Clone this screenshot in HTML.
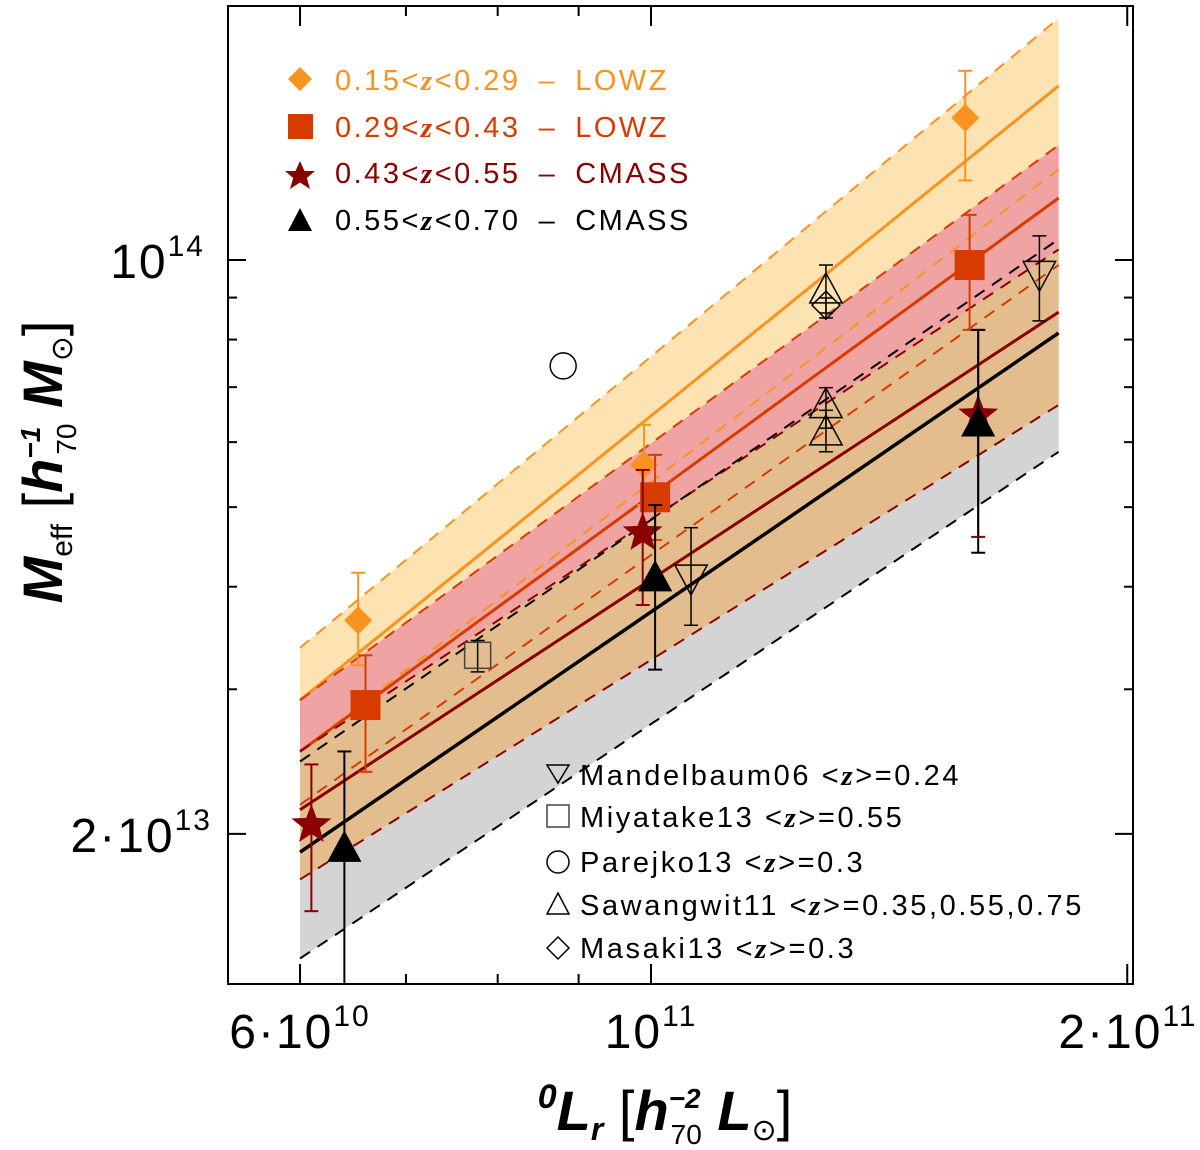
<!DOCTYPE html>
<html><head><meta charset="utf-8"><style>
body{margin:0;background:#fff;}
svg text{font-family:"Liberation Sans",sans-serif;}
</style></head><body>
<svg id="c" width="1200" height="1145" xmlns="http://www.w3.org/2000/svg"></svg>
<script>
// x: luminosity in 1e10 Lsun, y: mass in 1e13 Msun
const bandL = [6.0, 18.1];
const orangeMid = [2.91, 16.3], orangeUp = [3.37, 19.7], orangeLo = [2.52, 12.9];
const redMid = [2.52, 11.9], redUp = [2.91, 13.8], redLo = [2.17, 9.86];
const dredMid = [2.14, 8.64], dredUp = [2.52, 10.3], dredLo = [1.76, 6.66];
const blackMid = [1.90, 8.15], blackUp = [2.45, 10.6], blackLo = [1.41, 5.84];

const lowzAL = [6.53, 9.9, 15.8], lowzAM = [3.64, 5.63, 14.9], lowzAHi = [4.16, 6.3, 17.0], lowzALo = [3.21, 5.03, 12.5];
const lowzBL = [6.6, 10.06, 15.9], lowzBM = [2.87, 5.14, 9.86], lowzBHi = [3.30, 5.79, 11.35], lowzBLo = [2.38, 4.56, 8.22];
const cmassAL = [6.1, 9.88, 16.1], cmassAM = [2.05, 4.65, 6.47], cmassAHi = [2.43, 5.55, 8.22], cmassALo = [1.61, 3.80, 4.60];
const cmassBL = [6.4, 10.06, 16.1], cmassBM = [1.92, 4.10, 6.33], cmassBHi = [2.52, 5.03, 8.22], cmassBLo = [1.2, 3.17, 4.40];

const mandL = [10.6, 17.6], mandM = [4.10, 9.61], mandHi = [4.72, 10.7], mandLo = [3.59, 8.43];
const miyaL = [7.77], miyaM = [3.30], miyaHi = [3.44], miyaLo = [3.15];
const pareL = [8.8], pareM = [7.43];
const sawaL = [12.9, 12.9, 12.9], sawaM = [9.19, 6.66, 6.17], sawaHi = [9.86, 6.99, 6.56], sawaLo = [8.5, 6.24, 5.84];
const masaL = [12.9], masaM = [8.81], masaHi = [8.99], masaLo = [8.62];

const xTicksMajor = [6, 10, 20], xTicksMinor = [7, 8, 9];
const yTicksMajor = [10, 2], yTicksMinor = [3, 4, 5, 6, 7, 8, 9];

const NS = "http://www.w3.org/2000/svg";
const svg = document.getElementById('c');
const L = 228, R = 1133, T = 6, B = 984;
function X(v){ return 651 + 1582 * Math.log10(v / 10); }
function Y(v){ return 260 - 821 * Math.log10(v / 10); }
function mk(tag, attrs, parent){
  const e = document.createElementNS(NS, tag);
  for (const k in attrs) e.setAttribute(k, attrs[k]);
  (parent || svg).appendChild(e);
  return e;
}
const clip = mk('clipPath', {id: 'pc'});
mk('rect', {x: L, y: T, width: R - L, height: B - T}, clip);
const plot = mk('g', {'clip-path': 'url(#pc)'});



function band(up, lo, fill, name){
  const p = mk('polygon', {points: `${X(bandL[0])},${Y(up[0])} ${X(bandL[1])},${Y(up[1])} ${X(bandL[1])},${Y(lo[1])} ${X(bandL[0])},${Y(lo[0])}`, fill: fill}, plot);
  
  
}
function line(v, color, w, dash, name){
  const l = mk('line', {x1: X(bandL[0]), y1: Y(v[0]), x2: X(bandL[1]), y2: Y(v[1]), stroke: color, 'stroke-width': w}, plot);
  if (dash) l.setAttribute('stroke-dasharray', dash);
  
  
}
band(blackUp, blackLo, '#d4d4d4', 'band-cmass-high');
band(orangeUp, orangeLo, '#fde2b2', 'band-lowz-low');
band(redUp, redLo, '#f0a3a3', 'band-lowz-high');
band(dredUp, dredLo, '#e3bd8e', 'band-cmass-low');

const OR = '#f7931e', RD = '#d83b00', DR = '#8b0000', BK = '#000';
line(orangeUp, OR, 2, '12,9', 'lowz-low-upper'); line(orangeLo, OR, 2, '12,9', 'lowz-low-lower'); line(orangeMid, OR, 3, null, 'lowz-low-fit');
line(redUp, RD, 2, '12,9', 'lowz-high-upper'); line(redLo, RD, 2, '12,9', 'lowz-high-lower'); line(redMid, RD, 3, null, 'lowz-high-fit');
line(dredUp, DR, 2, '12,9', 'cmass-low-upper'); line(dredLo, DR, 2, '12,9', 'cmass-low-lower'); line(dredMid, DR, 3, null, 'cmass-low-fit');
line(blackUp, BK, 2, '12,9', 'cmass-high-upper'); line(blackLo, BK, 2, '12,9', 'cmass-high-lower'); line(blackMid, BK, 3.5, null, 'cmass-high-fit');

function errbar(x, hi, lo, color, w, name){
  const g = mk('g', {stroke: color, 'stroke-width': w || 2}, plot);
  
  
  mk('line', {x1: x, y1: Y(hi), x2: x, y2: Y(lo)}, g);
  mk('line', {x1: x - 7, y1: Y(hi), x2: x + 7, y2: Y(hi)}, g);
  mk('line', {x1: x - 7, y1: Y(lo), x2: x + 7, y2: Y(lo)}, g);
}
function marker(type, cx, cy, s, fill, stroke, name){
  let e;
  if (type === 'diamond') e = mk('polygon', {points: `${cx},${cy-s} ${cx+s},${cy} ${cx},${cy+s} ${cx-s},${cy}`}, plot);
  else if (type === 'square') e = mk('rect', {x: cx - s, y: cy - s, width: 2 * s, height: 2 * s}, plot);
  else if (type === 'tri') e = mk('polygon', {points: `${cx},${cy-s} ${cx+s*0.95},${cy+s*0.75} ${cx-s*0.95},${cy+s*0.75}`}, plot);
  else if (type === 'dtri') e = mk('polygon', {points: `${cx},${cy+s} ${cx+s*0.95},${cy-s*0.75} ${cx-s*0.95},${cy-s*0.75}`}, plot);
  else if (type === 'circle') e = mk('circle', {cx: cx, cy: cy, r: s}, plot);
  else {
    let pts = [];
    for (let i = 0; i < 10; i++){ const r = i % 2 ? s * 0.42 : s; const a = -Math.PI / 2 + i * Math.PI / 5; pts.push((cx + r * Math.cos(a)) + ',' + (cy + r * Math.sin(a))); }
    e = mk('polygon', {points: pts.join(' ')}, plot);
  }
  e.setAttribute('fill', fill);
  e.setAttribute('stroke', stroke || 'none');
  if (stroke) e.setAttribute('stroke-width', 1.5);
  
  
  return e;
}
function series(Ls, Ms, His, Los, type, s, fill, stroke, ecol, name, ew){
  for (let i = 0; i < Ls.length; i++){
    const x = X(Ls[i]);
    if (His) errbar(x, His[i], Los[i], ecol, ew, name + '-error-' + i);
    marker(type, x, Y(Ms[i]), s, fill, stroke, name + '-point-' + i);
  }
}
series(mandL, mandM, mandHi, mandLo, 'dtri', 17, 'none', '#000', '#000', 'mandelbaum06', 1.5);
series(miyaL, miyaM, miyaHi, miyaLo, 'square', 13, 'none', '#444', '#000', 'miyatake13', 1.5);
series(pareL, pareM, null, null, 'circle', 13, 'none', '#000', '#000', 'parejko13');
series(sawaL, sawaM, sawaHi, sawaLo, 'tri', 17, 'none', '#000', '#000', 'sawangwit11', 1.5);
series(masaL, masaM, masaHi, masaLo, 'diamond', 14, 'none', '#000', '#000', 'masaki13', 1.5);
series(lowzAL, lowzAM, lowzAHi, lowzALo, 'diamond', 14, OR, null, OR, 'lowz-low');
series(lowzBL, lowzBM, lowzBHi, lowzBLo, 'square', 15, RD, null, RD, 'lowz-high');
series(cmassAL, cmassAM, cmassAHi, cmassALo, 'star', 21, DR, null, DR, 'cmass-low');
series(cmassBL, cmassBM, cmassBHi, cmassBLo, 'tri', 18, BK, null, BK, 'cmass-high');

// frame & ticks
const ax = mk('g', {stroke: '#000', 'stroke-width': 2});


mk('rect', {x: L, y: T, width: R - L, height: B - T, fill: 'none'}, ax);
xTicksMajor.concat(xTicksMinor).forEach(v => {
  const len = xTicksMajor.includes(v) ? 20 : 10;
  mk('line', {x1: X(v), y1: B, x2: X(v), y2: B - len}, ax);
  mk('line', {x1: X(v), y1: T, x2: X(v), y2: T + len}, ax);
});
yTicksMajor.concat(yTicksMinor).forEach(v => {
  const len = yTicksMajor.includes(v) ? 18 : 9;
  mk('line', {x1: L, y1: Y(v), x2: L + len, y2: Y(v)}, ax);
  mk('line', {x1: R, y1: Y(v), x2: R - len, y2: Y(v)}, ax);
});
</script>
<svg width="1200" height="1145" style="position:absolute;left:0;top:0">
<g font-size="48" fill="#000" font-family="Liberation Sans, sans-serif" letter-spacing="2">
<text x="300" y="1048" text-anchor="middle">6·10<tspan font-size="30" dy="-22">10</tspan></text>
<text x="651" y="1048" text-anchor="middle">10<tspan font-size="30" dy="-22">11</tspan></text>
<text x="1128" y="1048" text-anchor="middle">2·10<tspan font-size="30" dy="-22">11</tspan></text>
<text x="205" y="278" text-anchor="end">10<tspan font-size="30" dy="-22">14</tspan></text>
<text x="212" y="852" text-anchor="end">2·10<tspan font-size="30" dy="-22">13</tspan></text>
</g>
<text x="665" y="1130" text-anchor="middle" font-size="56" font-family="Liberation Serif, serif" font-style="italic"><tspan font-size="34" dy="-22" font-weight="bold">0</tspan><tspan dy="22" font-weight="bold">L</tspan><tspan font-size="32" dy="10" font-weight="bold">r</tspan><tspan dy="-10" font-style="normal"> [</tspan><tspan font-weight="bold">h</tspan><tspan font-size="28" dy="-22" font-weight="bold">−2</tspan><tspan font-size="28" dx="-30" dy="36" font-style="normal" font-family="Liberation Sans, sans-serif">70</tspan><tspan dy="-14" font-weight="bold">   L</tspan><tspan font-size="30" dy="10" font-style="normal">⊙</tspan><tspan dy="-10" font-style="normal">]</tspan></text>
<text transform="translate(62,462) rotate(-90)" text-anchor="middle" font-size="56" font-family="Liberation Serif, serif" font-style="italic"><tspan font-weight="bold">M</tspan><tspan font-size="30" dy="10" font-style="normal" font-family="Liberation Sans, sans-serif">eff</tspan><tspan dy="-10" font-style="normal"> [</tspan><tspan font-weight="bold">h</tspan><tspan font-size="28" dy="-22" font-weight="bold">−1</tspan><tspan font-size="28" dx="-28" dy="36" font-style="normal" font-family="Liberation Sans, sans-serif">70</tspan><tspan dy="-14" font-weight="bold">   M</tspan><tspan font-size="30" dy="10" font-style="normal">⊙</tspan><tspan dy="-10" font-style="normal">]</tspan></text>
<g font-size="29" font-family="Liberation Sans, sans-serif" letter-spacing="2.5">
<polygon points="300,67 312,79 300,91 288,79" fill="#f7931e"/>
<text x="335" y="90" fill="#f7931e">0.15&lt;<tspan font-style="italic" font-family="Liberation Serif, serif" font-weight="bold">z</tspan>&lt;0.29<tspan dx="18">–</tspan><tspan dx="18">LOWZ</tspan></text>
<rect x="288" y="114" width="25" height="25" fill="#d83b00"/>
<text x="335" y="137" fill="#d83b00">0.29&lt;<tspan font-style="italic" font-family="Liberation Serif, serif" font-weight="bold">z</tspan>&lt;0.43<tspan dx="18">–</tspan><tspan dx="18">LOWZ</tspan></text>
<polygon points="300,157 304.5,167 315,167 306.8,174 310,185 300,178.5 290,185 293.2,174 285,167 295.5,167" fill="#8b0000" transform="translate(0,4) scale(1)"/>
<text x="335" y="183" fill="#8b0000">0.43&lt;<tspan font-style="italic" font-family="Liberation Serif, serif" font-weight="bold">z</tspan>&lt;0.55<tspan dx="18">–</tspan><tspan dx="18">CMASS</tspan></text>
<polygon points="300,208 312,231 288,231" fill="#000"/>
<text x="335" y="230" fill="#000">0.55&lt;<tspan font-style="italic" font-family="Liberation Serif, serif" font-weight="bold">z</tspan>&lt;0.70<tspan dx="18">–</tspan><tspan dx="18">CMASS</tspan></text>
</g>
<g font-size="29" font-family="Liberation Sans, sans-serif" letter-spacing="2.6" fill="#000">
<polygon points="547,765 569,765 558,783" fill="none" stroke="#000" stroke-width="1.5"/>
<text x="580" y="785">Mandelbaum06 &lt;<tspan font-style="italic" font-family="Liberation Serif, serif" font-weight="bold">z</tspan>&gt;=0.24</text>
<rect x="547" y="805" width="22" height="22" fill="none" stroke="#444" stroke-width="1.5"/>
<text x="580" y="827">Miyatake13 &lt;<tspan font-style="italic" font-family="Liberation Serif, serif" font-weight="bold">z</tspan>&gt;=0.55</text>
<circle cx="558" cy="862" r="11" fill="none" stroke="#000" stroke-width="1.5"/>
<text x="580" y="872">Parejko13 &lt;<tspan font-style="italic" font-family="Liberation Serif, serif" font-weight="bold">z</tspan>&gt;=0.3</text>
<polygon points="558,893 569,914 547,914" fill="none" stroke="#000" stroke-width="1.5"/>
<text x="580" y="915">Sawangwit11 &lt;<tspan font-style="italic" font-family="Liberation Serif, serif" font-weight="bold">z</tspan>&gt;=0.35,0.55,0.75</text>
<polygon points="558,937 569,948 558,959 547,948" fill="none" stroke="#000" stroke-width="1.5"/>
<text x="580" y="958">Masaki13 &lt;<tspan font-style="italic" font-family="Liberation Serif, serif" font-weight="bold">z</tspan>&gt;=0.3</text>
</g>
</svg>
</body></html>
